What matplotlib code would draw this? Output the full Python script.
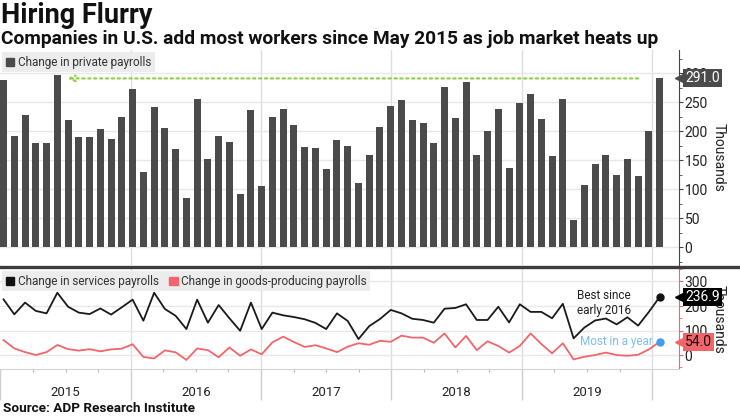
import numpy as np
import matplotlib.pyplot as plt
from matplotlib.patches import Patch
from matplotlib.lines import Line2D
from matplotlib.ticker import MultipleLocator, FixedLocator
import matplotlib.transforms as mtransforms

plt.rcParams['font.family'] = ['Roboto', 'DejaVu Sans']

# monthly data, Dec 2014 .. Jan 2020 (thousands)
years = ['2015', '2016', '2017', '2018', '2019']
private = [289, 192, 228, 179, 180, 297, 220, 190, 190, 204,
           187, 224, 272, 129, 241, 206, 170, 85, 255, 152,
           192, 182, 91, 237, 105, 225, 238, 210, 173, 171,
           135, 184, 174, 111, 158, 207, 243, 253, 219, 214,
           179, 276, 222, 284, 159, 200, 239, 137, 249, 264,
           221, 157, 255, 46, 107, 143, 159, 124, 152, 122,
           200, 291]
services = [227, 166, 214, 180, 170, 254, 197, 173, 167, 190,
            165, 195, 226, 140, 254, 188, 160, 106, 226, 132,
            204, 150, 99, 214, 106, 173, 162, 155, 146, 131,
            106, 170, 139, 65, 118, 147, 184, 170, 148, 143,
            132, 189, 192, 207, 143, 143, 197, 133, 207, 176,
            176, 150, 209, 68, 112, 141, 149, 125, 154, 120,
            176, 236.9]
goods = [61, 27, 12, 0, 12, 41, 24, 18, 24, 15,
         23, 26, 44, -8, -14, 19, 11, -20, 27, 20,
         -9, 31, -3, 23, 3, 52, 75, 53, 33, 40,
         27, 12, 34, 48, 42, 58, 54, 79, 71, 71,
         50, 88, 31, 78, 20, 56, 37, 10, 37, 88,
         45, 7, 48, -18, -7, 0, 10, 0, -3, 1,
         23, 54.0]

BAR = '#4b4b4b'
RED = '#f2666b'
GRID = '#e8e8e8'

x = np.arange(len(private))
year_edges = np.arange(6) * 12.12 - 0.3
quarters = year_edges[0] + np.arange(21) * 12.12 / 4

fig = plt.figure(figsize=(7.4, 4.16), dpi=100)
W, H = 740, 416


def box(l, t, r, b):
    return [l / W, 1 - b / H, (r - l) / W, (b - t) / H]


ax1 = fig.add_axes(box(0, 50, 679, 265))
ax2 = fig.add_axes(box(0, 269, 679, 369))

# ---- top panel: bars
ax1.bar(x, private, width=0.65, color=BAR, zorder=2)
ax1.set_xlim(-0.33, 62.8)
ax1.set_ylim(-31, 340)
ax1.set_xticks([])
ax1.yaxis.tick_right()
ax1.yaxis.set_label_position('right')
ax1.yaxis.set_major_locator(MultipleLocator(50))
ax1.yaxis.set_minor_locator(MultipleLocator(25))
ax1.tick_params(axis='y', which='major', length=3, width=0.8, color='#444',
                labelsize=10, labelcolor='#222', pad=1)
ax1.tick_params(axis='y', which='minor', length=2, width=0.6, color='#444')
ax1.grid(axis='y', color=GRID, lw=1, zorder=0)
for e in year_edges[1:]:
    ax1.axvline(e, color='#dedede', lw=1, zorder=0)
for s in ['top', 'left', 'bottom']:
    ax1.spines[s].set_visible(False)
ax1.spines['right'].set_color('#444')
ax1.set_ylabel('Thousands', rotation=270, fontsize=10, labelpad=13, color='#222')

# dotted arrow back to May 2015
ax1.annotate('', xy=(x[5] + 0.95, private[-1]), xytext=(x[-3], private[-1]),
             arrowprops=dict(arrowstyle='->', color='#8fd14a', lw=1.6,
                             linestyle=':', shrinkA=0, shrinkB=0), zorder=3)

lab_tr = mtransforms.offset_copy(ax1.get_yaxis_transform(), fig, x=2, y=0, units='dots')
ax1.plot([1.0], [private[-1]], marker='<', ms=8, color=BAR, transform=lab_tr,
         clip_on=False, zorder=10)
ax1.annotate(f'{private[-1]:.1f}', xy=(1, private[-1]),
             xycoords=('axes fraction', 'data'), xytext=(4.5, 0),
             textcoords='offset points', ha='left', va='center', color='white',
             fontsize=10, annotation_clip=False, zorder=11,
             bbox=dict(boxstyle='square,pad=0.15', fc=BAR, ec='none'))

leg1 = ax1.legend([Patch(color=BAR)], ['Change in private payrolls'],
                  loc='upper left', bbox_to_anchor=(0, 1), fontsize=8.5,
                  frameon=True, facecolor='#ececec', edgecolor='none',
                  fancybox=False, framealpha=1, handlelength=0.7,
                  handleheight=0.7, handletextpad=0.3, borderaxespad=0.2,
                  borderpad=0.3)
for t in leg1.get_texts():
    t.set_color('#333')

# ---- bottom panel: lines
ax2.plot(x, services, color='#1a1a1a', lw=1.3, zorder=3)
ax2.plot(x, goods, color=RED, lw=1.3, zorder=3)
ax2.plot(x[-1], services[-1], 'o', color='#111', ms=5, zorder=4)
ax2.plot(x[-1], goods[-1], 'o', color='#3d9df0', ms=5, zorder=4)
ax2.set_xlim(-0.33, 62.8)
ax2.set_ylim(-57, 351)
ax2.yaxis.tick_right()
ax2.yaxis.set_label_position('right')
ax2.yaxis.set_major_locator(MultipleLocator(100))
ax2.yaxis.set_minor_locator(MultipleLocator(50))
ax2.tick_params(axis='y', which='major', length=3, width=0.8, color=RED,
                labelsize=10, labelcolor='#222', pad=1)
ax2.tick_params(axis='y', which='minor', length=2, width=0.6, color=RED)
ax2.grid(axis='y', color=GRID, lw=1, zorder=0)
for e in year_edges[1:]:
    ax2.axvline(e, color='#dedede', lw=1, zorder=0)
ax2.xaxis.set_major_locator(FixedLocator(year_edges))
ax2.xaxis.set_minor_locator(FixedLocator(quarters))
ax2.tick_params(axis='x', which='major', length=22, width=1, color='#cfcfcf',
                labelbottom=False)
ax2.tick_params(axis='x', which='minor', length=2.5, width=0.8, color='#bbbbbb')
for s in ['top', 'left']:
    ax2.spines[s].set_visible(False)
ax2.spines['right'].set_color(RED)
ax2.spines['bottom'].set_color('#d5d5d5')
ax2.set_ylabel('Thousands', rotation=270, fontsize=10, labelpad=13, color='#222')

for i, yr in enumerate(years):
    ax2.text((year_edges[i] + year_edges[i + 1]) / 2, -0.23, yr,
             transform=ax2.get_xaxis_transform(), ha='center', va='center',
             fontsize=9.5, color='#222')

tr2 = mtransforms.offset_copy(ax2.get_yaxis_transform(), fig, x=2, y=0, units='dots')
for val, fc, tc in [(services[-1], '#000000', 'white'), (goods[-1], RED, '#111')]:
    ax2.plot([1.0], [val], marker='<', ms=8, color=fc, transform=tr2,
             clip_on=False, zorder=10)
    ax2.annotate(f'{val:.1f}', xy=(1, val), xycoords=('axes fraction', 'data'),
                 xytext=(4.5, 0), textcoords='offset points', ha='left',
                 va='center', color=tc, fontsize=10, annotation_clip=False,
                 zorder=11, bbox=dict(boxstyle='square,pad=0.15', fc=fc, ec='none'))

ax2.text(53.3, 213, 'Best since\nearly 2016', fontsize=8.5, color='#222',
         ha='left', va='center', linespacing=1.15)
ax2.text(x[-1] - 0.6, goods[-1], 'Most in a year', fontsize=8.5, color='#7dbcf2',
         ha='right', va='center')

leg2 = ax2.legend([Patch(color='#111'), Patch(color=RED)],
                  ['Change in services payrolls', 'Change in goods-producing payrolls'],
                  loc='upper left', bbox_to_anchor=(0, 1), ncol=2, fontsize=8.5,
                  frameon=True, facecolor='#ececec', edgecolor='none',
                  fancybox=False, framealpha=1, handlelength=0.7,
                  handleheight=0.7, handletextpad=0.3, columnspacing=0.9,
                  borderaxespad=0.2, borderpad=0.3)
for t in leg2.get_texts():
    t.set_color('#333')

# separator between panels
fig.add_artist(Line2D([0, 1], [1 - 266.5 / H] * 2, transform=fig.transFigure,
                      color='#3d3d3d', lw=2.4))

fig.text(0.002, 1 - 23 / H, 'Hiring Flurry', fontsize=19.5, weight='bold',
         va='baseline', color='#111')
fig.text(0.002, 1 - 44 / H,
         'Companies in U.S. add most workers since May 2015 as job market heats up',
         fontsize=13.8, weight='bold', va='baseline', color='#111')
fig.text(0.004, 1 - 409 / H, 'Source: ADP Research Institute', fontsize=9.7,
         weight='bold', va='center', color='#111')

fig.savefig('out.png', dpi=100)
